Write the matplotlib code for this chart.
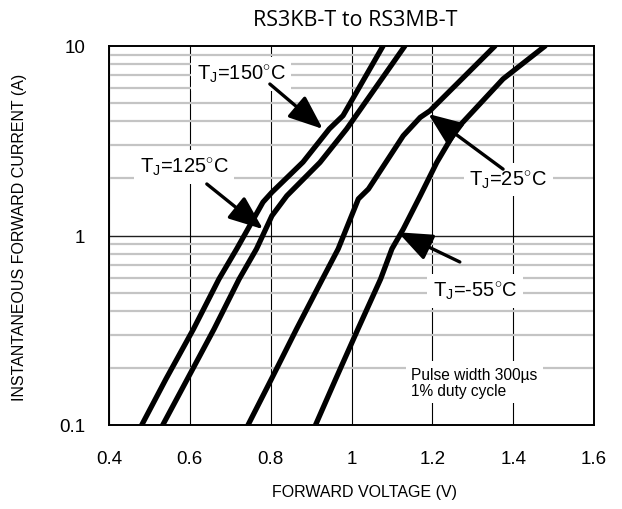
import numpy as np
import matplotlib
matplotlib.use('Agg')
import matplotlib.pyplot as plt
from matplotlib.ticker import LogLocator, NullFormatter

############################################################################################
# Curve data (forward voltage V, forward current A)
v_150 = [0.481, 0.541, 0.609, 0.672, 0.716, 0.781, 0.803, 0.880, 0.945, 0.979, 1.078]
i_150 = [0.1, 0.175, 0.321, 0.589, 0.85, 1.50, 1.69, 2.44, 3.65, 4.29, 10]

v_125 = [0.533, 0.594, 0.660, 0.722, 0.765, 0.803, 0.840, 0.922, 0.988, 1.132]
i_125 = [0.1, 0.175, 0.321, 0.589, 0.85, 1.27, 1.62, 2.43, 3.65, 10]

v_25 = [0.744, 0.802, 0.864, 0.928, 0.967, 1.017, 1.042, 1.128, 1.170, 1.194, 1.355]
i_25 = [0.1, 0.175, 0.321, 0.589, 0.849, 1.56, 1.76, 3.36, 4.2, 4.55, 10]

v_m55 = [0.911, 0.961, 1.016, 1.072, 1.100, 1.128, 1.170, 1.211, 1.260, 1.375, 1.479]
i_m55 = [0.1, 0.175, 0.321, 0.589, 0.85, 1.08, 1.62, 2.43, 3.65, 6.7, 10]

x_ticks = [0.4, 0.6, 0.8, 1.0, 1.2, 1.4, 1.6]
x_labels = ['0.4', '0.6', '0.8', '1', '1.2', '1.4', '1.6']
y_ticks = [0.1, 1, 10]
y_labels = ['0.1', '1', '10']

############################################################################################
plt.rcParams['font.family'] = ['Liberation Sans', 'DejaVu Sans']
plt.rcParams['mathtext.fontset'] = 'custom'
plt.rcParams['mathtext.rm'] = 'Liberation Sans'
plt.rcParams['mathtext.it'] = 'Liberation Sans'

fig = plt.figure(figsize=(6.22, 5.10), dpi=100)
ax = fig.add_axes([109/622, 1 - 426/510, 485/622, 379/510])

ax.set_xlim(0.4, 1.6)
ax.set_yscale('log')
ax.set_ylim(0.1, 10)

# grid lines
ax.set_xticks(x_ticks)
ax.set_xticklabels(x_labels, fontsize=13.5)
ax.set_yticks(y_ticks)
ax.set_yticklabels(y_labels, fontsize=13.5)
ax.yaxis.set_minor_locator(LogLocator(base=10, subs=np.arange(2, 10)))
ax.yaxis.set_minor_formatter(NullFormatter())
ax.tick_params(which='both', length=0)
ax.tick_params(axis='x', pad=18)
ax.tick_params(axis='y', pad=17)

ax.grid(True, which='major', axis='x', color='black', lw=0.8, zorder=0)
ax.grid(True, which='minor', axis='y', color='#c4c4c4', lw=1.6, zorder=0)
ax.axhline(1, color='#202020', lw=1.0, zorder=0.5)
ax.set_axisbelow(True)

for s in ax.spines.values():
	s.set_linewidth(1.4)
	s.set_zorder(5)

############################################################################################
# the curves
for v, i in [(v_150, i_150), (v_125, i_125), (v_25, i_25), (v_m55, i_m55)]:
	ax.plot(v, i, color='black', lw=3.8, solid_capstyle='round', solid_joinstyle='round', zorder=3)

############################################################################################
# labels and arrows
box = dict(facecolor='white', edgecolor='none', pad=4)
lab_kw = dict(fontsize=14.5, ha='center', va='center', bbox=box, zorder=2)
ax.text(0.727, 7.1, r'T$_\mathrm{J}$=150$^{\circ}$C', **lab_kw)
ax.text(0.586, 2.3, r'T$_\mathrm{J}$=125$^{\circ}$C', **lab_kw)
ax.text(1.388, 1.97, r'T$_\mathrm{J}$=25$^{\circ}$C', **lab_kw)
ax.text(1.306, 0.51, r'T$_\mathrm{J}$=-55$^{\circ}$C', **lab_kw)
ax.text(1.148, 0.168, 'Pulse width 300µs\n1% duty cycle', fontsize=11.2, ha='left', va='center',
		linespacing=1.05, bbox=dict(facecolor='white', edgecolor='none', pad=4), zorder=2)

arr = dict(arrowstyle='-|>,head_length=1.5,head_width=0.6', color='black', lw=2.4,
		   mutation_scale=14, shrinkA=0, shrinkB=0)
ax.annotate('', xy=(0.929, 3.65), xytext=(0.798, 6.3), arrowprops=arr, zorder=4)
ax.annotate('', xy=(0.781, 1.08), xytext=(0.642, 1.87), arrowprops=arr, zorder=4)
ax.annotate('', xy=(1.190, 4.38), xytext=(1.375, 2.24), arrowprops=arr, zorder=4)
ax.annotate('', xy=(1.115, 1.04), xytext=(1.268, 0.725), arrowprops=arr, zorder=4)

############################################################################################
fig.text(355/622, 1 - 21/510, 'RS3KB-T to RS3MB-T', fontsize=15.5, ha='center', va='center',
		 family=['Open Sans', 'DejaVu Sans'])
fig.text(364/622, 1 - 493/510, 'FORWARD VOLTAGE (V)', fontsize=11.5, ha='center', va='center')
fig.text(20/622, 1 - 237/510, 'INSTANTANEOUS FORWARD CURRENT (A)', fontsize=11.5, ha='center',
		 va='center', rotation=90)

plt.savefig('out.png', dpi=100)
